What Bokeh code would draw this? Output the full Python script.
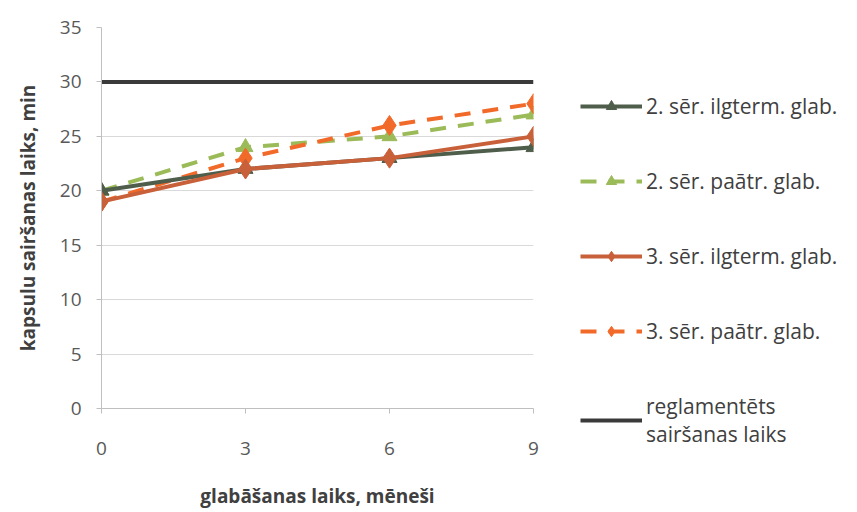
from bokeh.plotting import figure
from bokeh.models import Range1d, FixedTicker, Legend, LegendItem
from bokeh.embed import file_html
from bokeh.resources import INLINE

months = [0, 3, 6, 9]
s2_long = [20, 22, 23, 24]
s2_acc = [20, 24, 25, 27]
s3_long = [19, 22, 23, 25]
s3_acc = [19, 23, 26, 28]
reg = [30, 30, 30, 30]
y_ticks = [0, 5, 10, 15, 20, 25, 30, 35]
labels = ["2. sēr. ilgterm. glab.", "2. sēr. paātr. glab.", "3. sēr. ilgterm. glab.",
          "3. sēr. paātr. glab.", "reglamentēts\nsairšanas laiks"]

FONT = "Open Sans"
p = figure(frame_width=432, frame_height=381, output_backend="svg", toolbar_location=None,
           x_range=Range1d(0, 9), y_range=Range1d(0, 35),
           min_border_left=101, min_border_right=324, min_border_top=27, min_border_bottom=104)
p.outline_line_color = None
p.background_fill_color = "white"

for ax in (p.xaxis[0], p.yaxis[0]):
    ax.axis_line_color = "#bfbfbf"
    ax.major_tick_line_color = "#bfbfbf"
    ax.minor_tick_line_color = None
    ax.major_label_text_font = FONT
    ax.major_label_text_font_size = "19px"
    ax.major_label_text_color = "#595959"
    ax.axis_label_text_font = FONT
    ax.axis_label_text_font_style = "bold"
    ax.axis_label_text_font_size = "19px"
    ax.axis_label_text_color = "#404040"
    ax.major_tick_in = 0
    ax.major_tick_out = 5

p.xaxis.ticker = FixedTicker(ticks=months)
p.yaxis.ticker = FixedTicker(ticks=y_ticks)
p.xaxis.axis_label = "glabāšanas laiks, mēneši"
p.yaxis.axis_label = "kapsulu sairšanas laiks, min"
p.xaxis.major_label_standoff = 28
p.xaxis.axis_label_standoff = 25
p.yaxis.major_label_standoff = 15
p.yaxis.axis_label_standoff = 16
p.xgrid.grid_line_color = None
p.ygrid.grid_line_color = "#d9d9d9"
p.ygrid.grid_line_width = 1

c1, c2, c3, c4, c5 = "#4f5d4b", "#9bbb59", "#c8603a", "#f26a2a", "#3a3a3a"

r5 = p.line(months, reg, line_color=c5, line_width=4)
l2 = p.line(months, s2_acc, line_color=c2, line_width=4, line_dash="16 12")
m2 = p.scatter(months, s2_acc, marker="triangle", size=15, fill_color=c2, line_color=c2)
l4 = p.line(months, s3_acc, line_color=c4, line_width=4, line_dash="16 12")
m4 = p.scatter(months, s3_acc, marker="diamond", size=20, fill_color=c4, line_color=c4)
l1 = p.line(months, s2_long, line_color=c1, line_width=4)
m1 = p.scatter(months, s2_long, marker="triangle", size=15, fill_color=c1, line_color=c1)
l3 = p.line(months, s3_long, line_color=c3, line_width=4)
m3 = p.scatter(months, s3_long, marker="diamond", size=20, fill_color=c3, line_color=c3)

legend = Legend(items=[
    LegendItem(label=labels[0], renderers=[l1, m1]),
    LegendItem(label=labels[1], renderers=[l2, m2]),
    LegendItem(label=labels[2], renderers=[l3, m3]),
    LegendItem(label=labels[3], renderers=[l4, m4]),
    LegendItem(label=labels[4], renderers=[r5]),
], location=(47, -40))
legend.border_line_color = None
legend.background_fill_alpha = 0
legend.label_text_font = FONT
legend.label_text_font_size = "21px"
legend.label_text_line_height = 1.5
legend.label_text_color = "#404040"
legend.glyph_width = 62
legend.glyph_height = 26
legend.label_height = 26
legend.spacing = 47
legend.padding = 0
legend.margin = 0
legend.label_standoff = 4
p.add_layout(legend, "right")

open("out.html", "w").write(file_html(p, INLINE))
